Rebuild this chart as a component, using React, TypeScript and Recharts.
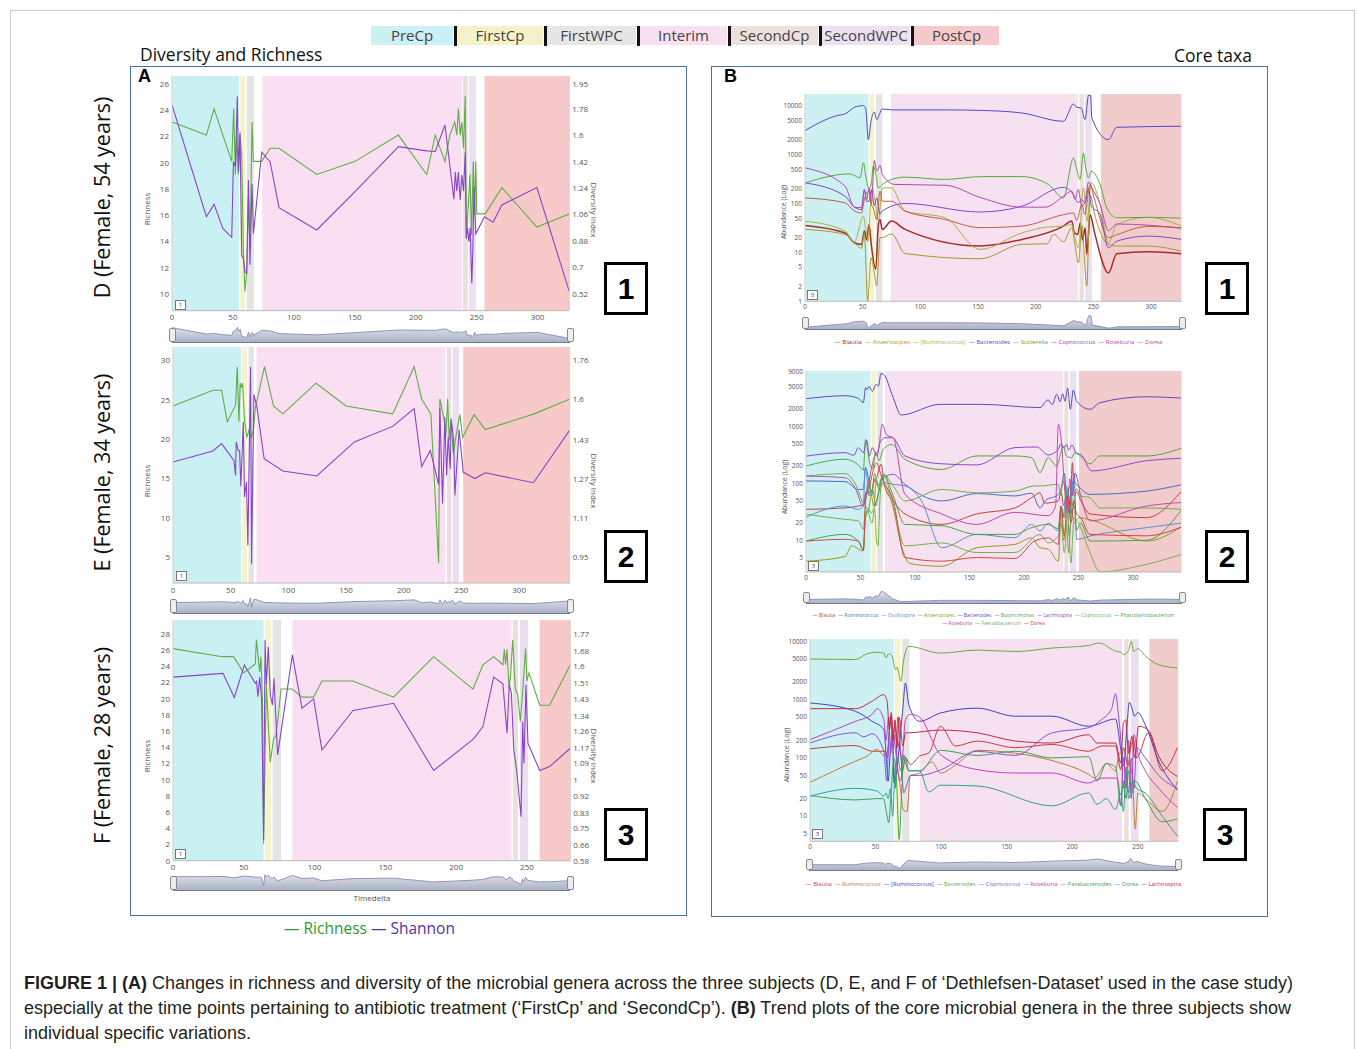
import React from 'react';
import { LineChart, Line, XAxis, YAxis, ReferenceArea, AreaChart, Area } from 'recharts';

type P = [number, number][];

// ---------- phases ----------
const PHASE_NAMES = ['PreCp', 'FirstCp', 'FirstWPC', 'Interim', 'SecondCp', 'SecondWPC', 'PostCp'];
const PHASE_LEGEND_COLORS = ['#cbf1f4', '#f4f2c9', '#e6e6e6', '#f9e0f1', '#ede1de', '#ece1f3', '#f6caca'];
const PHASE_COLORS_A = ['#c9f1f4', '#f5f3cb', '#e4e4e4', '#fadff2', '#eadfdc', '#ebdff2', '#f7c9c9'];
const PHASE_COLORS_B = ['#cdf0f3', '#f5f3cb', '#e4e4e4', '#f5e1f0', '#eadfdc', '#ebe0f2', '#f2cccc'];

const A1_PHASES: P = [[0, 55], [56, 60], [61.3, 67.3], [74.1, 237.8], [238.6, 242.7], [243.8, 249.3], [256.4, 326]];
const A2_PHASES: P = [[0, 59.1], [60, 64], [65.5, 70], [72.4, 236], [237.4, 241.1], [242.3, 248], [251.5, 344]];
const A3_PHASES: P = [[0, 64], [65.2, 69.2], [70.4, 76.3], [84.3, 239], [240, 243.6], [245, 250.7], [259, 281]];
const B1_PHASES: P = [[0, 55], [56, 60], [61.6, 67], [74.6, 236.4], [237.9, 241.6], [242.8, 248.6], [256.4, 327]];
const B2_PHASES: P = [[0, 59.3], [60.2, 64.2], [65.4, 70.3], [72.5, 236], [237, 240.7], [242.2, 247.7], [250.5, 345]];
const B3_PHASES: P = [[0, 63.9], [64.9, 69], [70.3, 75.8], [83.7, 238], [239.7, 243], [244.6, 250.6], [258.8, 281]];

// ---------- Panel A: richness / shannon ----------
const A1_RICHNESS: P = [[0, 23.1], [28.2, 22.1], [34.5, 24.1], [49, 20.1], [50.6, 24.1], [52, 19.1], [53.1, 22], [54.5, 19.1], [55.8, 22.1], [57.2, 20.6], [58.6, 13], [59.9, 10.2], [61.3, 11.7], [62.7, 17.3], [64, 13.5], [65.7, 23.1], [66.8, 20.1], [73.6, 20.1], [80.5, 21.1], [87.8, 21.1], [118.8, 19.1], [150.2, 20.1], [185.8, 22.1], [209, 19.1], [216, 22.1], [224, 20.1], [228, 22.1], [232, 23.1], [233.7, 22.1], [235, 24.1], [236.5, 22.1], [237.8, 23.1], [239.2, 21.1], [240.6, 25.1], [241.5, 14.2], [243, 16.5], [244.5, 19.1], [245.8, 14.5], [247.2, 20.1], [248.3, 16], [249.3, 20.1], [250.1, 16.1], [257, 16.1], [270.7, 18.1], [299.4, 15.1], [326, 16.1]];
const A1_SHANNON: P = [[0, 1.807], [28.2, 1.046], [34.5, 1.13], [41.7, 0.967], [49, 0.906], [50.4, 1.42], [52, 1.39], [53.6, 1.864], [54.5, 1.35], [55.8, 1.62], [57.2, 0.785], [58.6, 0.76], [59.9, 0.672], [61.3, 0.66], [62.7, 1.296], [64, 0.72], [65.7, 1.27], [66.8, 0.93], [73.6, 1.485], [80.5, 1.42], [87.8, 1.108], [118.8, 0.956], [150.2, 1.217], [185.8, 1.523], [209, 1.494], [216, 1.49], [224, 1.67], [231.3, 1.165], [232.5, 1.35], [233.7, 1.22], [235, 1.35], [236.5, 1.16], [237.8, 1.33], [239.2, 1.22], [240.6, 1.485], [241.5, 0.9], [242.5, 0.97], [243.6, 0.876], [244.7, 0.97], [246, 0.593], [246.8, 0.8], [247.8, 1.25], [249.3, 0.93], [256.4, 1.046], [263.5, 1.008], [270.7, 1.126], [299.4, 1.244], [326, 0.536]];

const A2_RICHNESS: P = [[0, 24.2], [34.6, 26.2], [42.1, 26.2], [47, 22.2], [54.2, 24.3], [55.7, 29.2], [57.1, 22.2], [58.3, 27.1], [59.4, 26.6], [60.3, 27.1], [62, 22.4], [64, 20.2], [65.8, 21.1], [67.8, 20.2], [69.8, 21.2], [71.5, 24.1], [79.3, 29.2], [87.1, 24.2], [95.2, 23.2], [124, 27.1], [150, 24.2], [190.4, 23.2], [209, 29.2], [215.5, 25.1], [223.5, 23.2], [230.2, 4.2], [231.3, 25.1], [235, 22.4], [236.5, 20.3], [238, 25.1], [239.4, 19.8], [241, 22.4], [242.9, 18.1], [245.2, 20.3], [248.6, 23.1], [251, 20.2], [261, 23.1], [270.6, 21.2], [313, 23.2], [344, 25.1]];
const A2_SHANNON: P = [[0, 1.341], [34.6, 1.387], [42.1, 1.417], [52.8, 1.348], [54.2, 1.286], [54.8, 1.424], [56.5, 1.389], [57.7, 1.389], [58.8, 1.241], [60.9, 1.506], [62, 1.197], [63.7, 1.259], [64.9, 0.998], [67.2, 1.733], [68.1, 0.922], [70.1, 1.62], [72.7, 1.568], [79, 1.355], [95.2, 1.304], [124.6, 1.284], [157.2, 1.424], [190.4, 1.488], [209, 1.561], [215.5, 1.323], [223, 1.389], [230.2, 1.249], [231.3, 1.565], [233.6, 1.17], [235.6, 1.527], [237.1, 1.286], [238.5, 1.444], [240.3, 1.314], [241.1, 1.52], [243.2, 1.43], [244.3, 1.204], [248, 1.474], [251.5, 1.3], [261.6, 1.273], [270.6, 1.297], [312.4, 1.256], [344, 1.474]];

const A3_RICHNESS: P = [[0, 26.2], [34.6, 25.2], [42.8, 25.2], [49.9, 23.2], [58.1, 24.3], [58.9, 27.3], [61.2, 23.3], [62.1, 25.2], [63.2, 19.5], [64, 2.1], [65.9, 21.7], [68.7, 12.2], [71.1, 15.1], [72.5, 15.3], [73.9, 17.2], [76.3, 21.2], [84.3, 21.2], [91.1, 20.2], [99.3, 20.2], [105.2, 22.2], [127.1, 22.2], [155.8, 20.2], [184.1, 25.2], [211.9, 21.2], [218.9, 24.2], [226.5, 25.2], [233, 24.2], [234, 26.1], [234.9, 24.2], [235.9, 26.1], [237.3, 21.3], [238.5, 23.1], [239.9, 27.3], [241.8, 21.2], [243.5, 20.5], [245.3, 17.2], [247, 21], [249, 26.2], [250, 22.2], [251.4, 23.2], [259, 19.2], [266, 19.2], [280.6, 24.2]];
const A3_SHANNON: P = [[0, 1.543], [35.3, 1.563], [43.3, 1.437], [50.4, 1.607], [58.1, 1.511], [59, 1.52], [60, 1.441], [61.2, 1.543], [62.6, 1.43], [64, 0.688], [65, 1.739], [65.9, 1.502], [67.3, 1.703], [68.7, 1.45], [70.2, 1.397], [71.3, 1.537], [73.9, 1.135], [84.3, 1.66], [91.1, 1.38], [99.3, 1.429], [105.2, 1.161], [127.1, 1.368], [155.8, 1.406], [184.1, 1.053], [212.3, 1.219], [218.9, 1.284], [226.5, 1.543], [233, 1.508], [235.9, 1.249], [237.5, 1.502], [239, 1.46], [240.6, 1.17], [242.9, 1.044], [245.8, 0.811], [247, 1.31], [247.9, 1.091], [249.3, 1.502], [250.7, 1.196], [259, 1.053], [266, 1.074], [280.6, 1.17]];

const A1_LEFT_TICKS = [10, 12, 14, 16, 18, 20, 22, 24, 26];
const A1_RIGHT_TICKS = [0.52, 0.7, 0.88, 1.06, 1.24, 1.42, 1.6, 1.78, 1.95];
const A2_LEFT_TICKS = [5, 10, 15, 20, 25, 30];
const A2_RIGHT_TICKS = [0.95, 1.11, 1.27, 1.43, 1.6, 1.76];
const A3_LEFT_TICKS = [0, 2, 4, 6, 8, 10, 12, 14, 16, 18, 20, 22, 24, 26, 28];
const A3_RIGHT_TICKS = [0.58, 0.66, 0.75, 0.83, 0.92, 1, 1.09, 1.17, 1.26, 1.34, 1.43, 1.51, 1.6, 1.68, 1.77];
const X_TICKS_300 = [0, 50, 100, 150, 200, 250, 300];
const X_TICKS_250 = [0, 50, 100, 150, 200, 250];

// ---------- Panel B: core taxa (subject D) ----------
const B1_BLAUTIA: P = [[0, 35.6], [34.7, 25], [42.8, 15.7], [49, 14.5], [51.4, 27.3], [53.5, 18], [55.5, 37], [57.5, 14], [61.3, 4.5], [63.6, 37], [65, 47], [67, 29.5], [75, 43.6], [86.7, 29.5], [151.7, 13.5], [188, 18.4], [224, 34.5], [231.2, 43.6], [233.5, 25], [236.4, 23.3], [238.5, 40], [240.5, 18], [242.8, 32], [244.2, 9.1], [247.1, 59], [251, 25], [263, 3.8], [270.2, 9.4], [297.7, 10.3], [326, 9.4]];
const B1_ANAEROSTIPES: P = [[0, 29.5], [34.7, 23.3], [42.8, 15.7], [49, 12.1], [51.4, 25], [54.3, 1], [57.2, 7.8], [60, 4], [62.1, 2.06], [65, 20], [67, 20], [75, 24], [86.7, 9.5], [151.7, 7.4], [188, 14.6], [210, 15], [215.5, 23.3], [224, 16.5], [231.2, 32], [234, 14], [237, 6.1], [240, 35], [244.2, 2.06], [247.1, 150], [251, 60], [263, 14.6], [270.2, 13.5], [297.7, 13.5], [326, 10.6]];
const B1_RUMINO_BR: P = [[0, 43.6], [34.7, 27.3], [42.8, 16.5], [50.6, 55], [52.6, 30], [54.9, 17], [56.5, 81], [58.4, 208], [60.5, 120], [63.6, 44], [67, 208], [75, 208], [86.7, 70], [121.4, 51], [151.7, 11.5], [188, 25], [210, 33], [224, 34.5], [231.2, 37], [234, 20], [237, 12.4], [241.3, 208], [244.5, 44], [248, 264], [255.8, 95], [263, 15.7], [270.2, 37], [297.7, 52], [326, 35]];
const B1_BACTEROIDES: P = [[0, 3090], [27.5, 6250], [35.3, 6870], [42.8, 9240], [50.6, 10000], [52.6, 8690], [54.9, 2020], [57.2, 4790], [60.1, 7430], [62.1, 5180], [67, 8550], [75.1, 8190], [121.4, 8190], [153.2, 7980], [187.9, 7080], [224, 4790], [232.7, 10800], [235.5, 9240], [239.3, 8960], [242.8, 5180], [245.7, 16200], [247.5, 16000], [248.6, 5600], [263, 2020], [270.2, 3610], [326, 3790]];
const B1_SUTTERELLA: P = [[0, 264], [39, 403], [47.7, 333], [50.6, 676], [52.9, 333], [55.5, 200], [57.5, 260], [59.2, 580], [61.5, 380], [63.6, 208], [67, 244], [75.1, 310], [86.7, 345], [121, 310], [153, 354], [188, 354], [211, 244], [224, 130], [232.7, 857], [235.5, 500], [238.4, 310], [241.3, 1075], [243.5, 500], [245.7, 333], [248, 456], [255.8, 244], [261.6, 81], [270.2, 51], [297.7, 52], [326, 50]];
const B1_COPROCOCCUS: P = [[0, 264], [34.7, 141], [42.8, 84], [49, 75], [51.4, 194], [53.5, 110], [55.5, 111], [57.5, 190], [60, 90], [62.1, 130], [65, 60], [67, 70], [86.7, 100], [151.7, 67], [188, 88], [224, 214], [232.7, 152], [236.9, 103], [239.5, 120], [242.8, 103], [245.7, 208], [248, 90], [255.8, 60], [263, 12.4], [270.2, 17], [297.7, 21.5], [326, 18.5]];
const B1_ROSEBURIA: P = [[0, 535], [34.7, 226], [42.8, 84], [49, 82], [51.4, 179], [53.5, 120], [55.5, 208], [57.5, 100], [60.1, 755], [62.1, 457], [65, 605], [67, 391], [78, 245], [121.4, 236], [153, 130], [188, 84], [208, 84], [224, 140], [231.2, 179], [234, 121], [236.9, 194], [239.9, 88], [242.8, 111], [245.7, 275], [248.6, 208], [255.8, 95], [263, 28], [270.2, 38], [297.7, 36], [326, 31]];
const B1_DOREA: P = [[0, 130], [34.7, 103], [42.8, 70], [49, 64], [51.4, 120], [55.5, 179], [57.2, 100], [59.2, 80], [62.1, 47], [65, 179], [67, 111], [75, 111], [86.7, 70], [121.4, 47], [151.7, 32], [188, 34.5], [224, 59], [232.7, 64], [235.5, 45], [239.9, 95], [242.5, 60], [247.1, 244], [251, 120], [263, 20], [270.2, 23], [297.7, 34], [326, 32]];

// ---------- Panel B: core taxa (subject E) ----------
const B2_BLAUTIA: P = [[0, 35], [35.8, 37], [48, 40], [52.6, 42], [55, 70], [57.8, 73], [60, 60], [62, 100], [64.8, 125], [68.8, 215], [72.5, 84], [80, 49], [90.8, 29], [124.5, 19], [156.6, 29], [191.7, 37], [207, 56], [214.7, 68], [219, 45], [231.5, 49], [234, 70], [236.5, 40], [239, 60], [242, 30], [244.5, 230], [246, 60], [248.3, 70], [252, 50], [260.6, 29], [312.5, 25], [344, 71]];
const B2_RUMINOCOCCUS: P = [[0, 110], [35.8, 107], [48, 78], [52.6, 78], [54.7, 188], [57.2, 125], [60, 70], [63, 120], [66, 90], [71, 125], [80, 144], [90.8, 96], [124.5, 49], [156.6, 66], [191.7, 60], [207, 67], [214.7, 37], [219.3, 49], [231.5, 64], [234, 80], [237, 150], [240, 30], [243, 70], [245.3, 110], [248.3, 96], [260.6, 64], [312.5, 73], [344, 94]];
const B2_OSCILLOSPIRA: P = [[0, 25.6], [35.8, 40], [48, 35], [52.6, 40], [54.3, 188], [56, 120], [58, 60], [61, 80], [64, 40], [67, 80], [71, 103], [80, 96], [90.8, 90], [106, 49], [124.5, 7.4], [156.6, 12.7], [191.7, 11.1], [207, 19], [214.7, 14.6], [222.3, 20], [231.5, 14.6], [234, 40], [236, 25], [239, 90], [241.5, 12], [244, 60], [246, 150], [248.3, 10.4], [260.6, 11.9], [312.5, 16.7], [344, 20]];
const B2_ANAEROSTIPES: P = [[0, 4.3], [35.8, 5.2], [42, 8], [52.6, 6.5], [54.7, 25], [57.5, 35], [60, 60], [62, 40], [64.8, 110], [67, 80], [71, 96], [80, 37], [87.2, 8.5], [95.4, 3.9], [124.5, 3.5], [156.6, 7.4], [191.7, 8.5], [207, 11], [214.7, 7.4], [222.3, 7], [231.5, 4.3], [234, 30], [236.5, 10], [239, 20], [241, 6], [243.5, 35], [246, 20], [250, 25], [260.6, 23], [312.5, 9.7], [344, 17]];
const B2_BACTEROIDES: P = [[0, 3050], [35.8, 3440], [48, 3100], [52.6, 2600], [54.7, 4760], [56, 4400], [57.8, 5000], [60.9, 4100], [64.2, 5460], [66.4, 5100], [68.8, 8400], [71, 8200], [80, 3180], [87.2, 1580], [123, 2430], [161, 2430], [214.7, 2130], [222, 2900], [226, 2400], [230, 3640], [233, 2700], [235.5, 3700], [237.6, 2760], [240.1, 4660], [242.5, 1990], [245.3, 4320], [248.3, 2760], [260.6, 1990], [269.7, 2600], [312.5, 3300], [344, 3130]];
const B2_BUTYRICIMONAS: P = [[0, 201], [35.8, 264], [48, 210], [52.6, 170], [54.7, 590], [56.5, 400], [58, 250], [61, 180], [64, 350], [67, 250], [71, 400], [78.6, 480], [90.8, 264], [124.5, 175], [156.6, 302], [191.7, 302], [207, 282], [214.7, 154], [222.3, 282], [230, 200], [233, 300], [236, 450], [239, 300], [243.7, 282], [247, 350], [252, 300], [260.6, 220], [269.7, 302], [312.5, 302], [344, 410]];
const B2_LACHNOSPIRA: P = [[0, 300], [35.8, 345], [44, 310], [48, 423], [52.6, 345], [55.7, 568], [58, 300], [61, 420], [65, 300], [68, 520], [72.5, 630], [79.2, 630], [90.8, 302], [123, 221], [156.6, 210], [191.7, 423], [211.6, 434], [222.3, 314], [231.5, 394], [234, 500], [236.5, 420], [239, 480], [241, 380], [244, 470], [248.3, 330], [252, 320], [262, 165], [313, 250], [344, 275]];
const B2_COPROCOCCUS: P = [[0, 134], [35.8, 148], [45, 100], [54, 43], [56, 90], [58, 120], [60, 60], [63, 150], [66, 90], [71, 144], [80, 90], [90.8, 49], [124.5, 78], [156.6, 68], [191.7, 73], [209.7, 90], [214.7, 90], [231.5, 96], [233.5, 60], [236, 110], [239, 50], [242, 90], [245, 40], [248, 80], [252, 60], [260.6, 56], [269.7, 37], [312.5, 37], [344, 35]];
const B2_PHASCOLARCTO: P = [[0, 9.7], [35.8, 12.7], [48, 9.7], [52.6, 7], [54.7, 28.6], [57.5, 35], [60, 30], [63, 40], [66, 60], [71, 144], [80, 60], [90.8, 19], [124.5, 18], [156.6, 12.7], [191.7, 12.7], [207, 16.7], [222.3, 19], [231.5, 16], [234, 40], [237, 25], [240, 80], [243, 30], [246, 40], [248.3, 15], [252, 20], [260.6, 9.7], [312.5, 10], [344, 33]];
const B2_ROSEBURIA: P = [[0, 134], [35.8, 125], [45, 84], [52.6, 40], [55, 60], [57.5, 100], [60.5, 200], [63, 300], [66.5, 400], [70, 1085], [74, 700], [80, 630], [90.8, 64], [124.5, 29], [156.6, 19], [191.7, 31], [222.3, 27], [229, 40], [231.5, 1085], [234.6, 480], [237, 100], [240, 37], [242, 120], [244, 60], [247, 150], [252, 60], [260.6, 22], [312.5, 40], [344, 46]];
const B2_FAECALI: P = [[0, 28.6], [35.8, 23.3], [48, 22], [52.6, 15.7], [54.7, 40], [57.5, 30], [60.5, 20], [63, 35], [64.8, 9.7], [66, 8], [68, 60], [71, 144], [78, 60], [90.8, 8], [124.5, 9], [156.6, 6.1], [191.7, 6.1], [214.7, 12.7], [222.3, 9], [231.5, 12], [234, 20], [237, 6], [240, 30], [243, 4], [246, 25], [250, 20], [260.6, 6.1], [269.7, 2.8], [312.5, 3.8], [344, 5.6]];
const B2_DOREA: P = [[0, 9.7], [35.8, 10.4], [48, 9.7], [52.6, 6.7], [54.7, 52], [57.8, 80], [61, 150], [64.8, 230], [67, 180], [70, 120], [80, 50], [90.8, 5], [124.5, 4.3], [156.6, 5], [191.7, 4.8], [209.7, 9.7], [222.3, 11], [231.5, 8.5], [234, 40], [237, 12], [240, 60], [243, 20], [246, 50], [248, 30], [252, 25], [260.6, 12.7], [312.5, 12], [344, 17]];

// ---------- Panel B: core taxa (subject F) ----------
const B3_BLAUTIA: P = [[0, 143], [34.7, 163], [47.4, 130], [57.5, 130], [59, 100], [61.4, 520], [63, 200], [64.5, 350], [66.4, 210], [69, 122], [70.5, 60], [72.8, 100], [76.5, 77], [83.5, 107], [90.6, 122], [99.5, 350], [110.9, 160], [127.4, 194], [156.6, 150], [184.6, 170], [212.5, 130], [222.7, 160], [233, 160], [237, 63], [239, 150], [242.6, 72], [244.5, 150], [246.8, 200], [249, 100], [258, 270], [268.6, 60], [280.2, 150]];
const B3_RUMINOCOCCUS: P = [[0, 38], [34.7, 88], [43.6, 107], [51.2, 140], [56.3, 110], [58.8, 122], [60.5, 300], [62, 500], [63.5, 150], [65, 250], [67, 60], [69, 30], [70.8, 13], [74, 12], [76.5, 50], [83.5, 55], [93, 85], [99.5, 55], [110.9, 75], [127.4, 135], [156.6, 120], [184.6, 90], [212.5, 52], [217, 45], [226, 80], [233, 60], [236, 120], [239, 100], [241.5, 40], [243, 90], [246, 40], [248, 6], [250, 25], [255.7, 20], [268.6, 12], [280.2, 40]];
const B3_RUMINO_BR: P = [[0, 877], [34.7, 630], [47.4, 425], [56.3, 307], [58.8, 63], [59.6, 40], [61.4, 150], [62.8, 250], [64, 37], [66.4, 67], [68.5, 200], [70.8, 710], [72.8, 1930], [75.3, 820], [83.5, 425], [99.5, 590], [127.4, 715], [156.6, 520], [184.6, 520], [212.5, 350], [233, 465], [237, 140], [239.2, 72], [241.5, 300], [243.5, 900], [245.5, 715], [247.5, 520], [250, 600], [255.7, 370], [265.9, 88], [280.2, 28]];
const B3_BACTEROIDES: P = [[0, 4980], [34.7, 4900], [43.6, 6150], [51.2, 6520], [56.3, 6300], [58, 5200], [60, 6150], [62.6, 5600], [65.2, 3270], [66.5, 3600], [67.7, 2870], [69.2, 2060], [71.5, 4880], [75.3, 8210], [99.5, 6300], [127.4, 7100], [156.6, 6700], [184.6, 7700], [212.5, 8500], [220.2, 9360], [234, 6700], [237, 6500], [239.2, 5900], [243, 7000], [245, 10100], [246.8, 6700], [250, 7500], [255.7, 5600], [265.9, 3980], [280.2, 3500]];
const B3_COPROCOCCUS: P = [[0, 180], [34.7, 270], [41, 230], [47.4, 260], [56.3, 130], [58.5, 40], [60, 200], [62, 500], [63.5, 120], [65, 30], [67, 500], [69, 150], [71.5, 25], [73, 30], [76.5, 50], [83.5, 50], [99.5, 62], [127.4, 130], [156.6, 110], [184.6, 270], [212.5, 330], [222, 450], [230, 700], [233, 1270], [235, 600], [237, 200], [239, 30], [241, 60], [243, 25], [245, 100], [247, 30], [249, 150], [255.7, 100], [265.9, 50], [280.2, 30]];
const B3_ROSEBURIA: P = [[0, 206], [34.7, 425], [47.4, 560], [51.2, 700], [56.3, 450], [58, 200], [60, 500], [61.5, 120], [63, 300], [65, 150], [67, 60], [69, 40], [72.8, 450], [76.5, 560], [83.5, 500], [99.5, 114], [127.4, 63], [156.6, 55], [184.6, 55], [212.5, 37], [222, 45], [233, 45], [235, 40], [237, 15], [239, 100], [241, 30], [243, 200], [245, 20], [247, 250], [250, 120], [255.7, 60], [265.9, 30], [280.2, 14]];
const B3_PARABACTEROIDES: P = [[0, 22.6], [34.7, 19], [51.2, 20], [56, 20], [58.8, 10], [60, 7.7], [62, 30], [64, 100], [66, 40], [68, 4], [70, 30], [71.5, 110], [73, 100], [75.3, 60], [83.5, 60], [99.5, 135], [127.4, 110], [156.6, 130], [184.6, 100], [212.5, 105], [219, 40], [226, 80], [233, 70], [237, 15], [239, 40], [241, 20], [243, 60], [246, 25], [248, 40], [255.7, 20], [268.6, 8], [280.2, 9]];
const B3_DOREA: P = [[0, 22], [34.7, 30], [51.2, 27], [56.3, 22], [58, 25], [59.6, 20], [61.4, 30], [63, 10], [65, 70], [67, 100], [69, 60], [71.5, 110], [73, 80], [75.3, 60], [83.5, 60], [90.6, 26], [99.5, 34], [127.4, 33], [184.6, 15], [212.5, 25], [218.9, 16], [226, 20], [233, 13], [237, 25], [239, 12], [241, 70], [243, 20], [246, 40], [249, 30], [255.7, 25], [268.6, 10], [280.2, 4.5]];
const B3_LACHNOSPIRA: P = [[0, 700], [34.7, 700], [47.4, 940], [56.3, 1220], [58.8, 940], [60.5, 300], [62, 600], [63.5, 200], [64.8, 450], [66.5, 150], [68, 500], [70.8, 160], [72.8, 270], [75.3, 270], [99.5, 300], [127.4, 270], [156.6, 195], [184.6, 180], [212.5, 250], [218.9, 180], [233, 180], [237, 82], [239, 400], [240.8, 450], [243, 120], [245.5, 235], [247.5, 100], [250.6, 350], [258, 300], [265.9, 107], [280.2, 48]];

const B1_Y_TICKS = [1, 2, 5, 10, 20, 50, 100, 200, 500, 1000, 2000, 5000, 10000];
const B2_Y_TICKS = [5, 10, 20, 50, 100, 200, 500, 1000, 2000, 5000, 9000];
const B3_Y_TICKS = [5, 10, 20, 50, 100, 200, 500, 1000, 2000, 5000, 10000];

type S = { name: string; color: string; pts: P; w?: number };
const B1_SERIES: S[] = [
  { name: 'Blautia', color: '#a82a2a', pts: B1_BLAUTIA, w: 1.5 },
  { name: 'Anaerostipes', color: '#a8982c', pts: B1_ANAEROSTIPES },
  { name: '[Ruminococcus]', color: '#a9b240', pts: B1_RUMINO_BR },
  { name: 'Bacteroides', color: '#5448c0', pts: B1_BACTEROIDES },
  { name: 'Sutterella', color: '#5aa83a', pts: B1_SUTTERELLA },
  { name: 'Coprococcus', color: '#7e48c8', pts: B1_COPROCOCCUS },
  { name: 'Roseburia', color: '#b448b8', pts: B1_ROSEBURIA },
  { name: 'Dorea', color: '#c05a4a', pts: B1_DOREA },
];
const B2_SERIES: S[] = [
  { name: 'Blautia', color: '#c0403a', pts: B2_BLAUTIA },
  { name: 'Ruminococcus', color: '#4a6cc0', pts: B2_RUMINOCOCCUS },
  { name: 'Oscillospira', color: '#5a90d0', pts: B2_OSCILLOSPIRA },
  { name: 'Anaerostipes', color: '#9a9a18', pts: B2_ANAEROSTIPES },
  { name: 'Bacteroides', color: '#5a48c0', pts: B2_BACTEROIDES },
  { name: 'Butyricimonas', color: '#5aa040', pts: B2_BUTYRICIMONAS },
  { name: 'Lachnospira', color: '#9048c8', pts: B2_LACHNOSPIRA },
  { name: 'Coprococcus', color: '#6ab04a', pts: B2_COPROCOCCUS },
  { name: 'Phascolarctobacterium', color: '#48a048', pts: B2_PHASCOLARCTO },
  { name: 'Roseburia', color: '#c048b0', pts: B2_ROSEBURIA },
  { name: 'Faecalibacterium', color: '#78b050', pts: B2_FAECALI },
  { name: 'Dorea', color: '#d04848', pts: B2_DOREA },
];
const B3_SERIES: S[] = [
  { name: 'Blautia', color: '#c83a3a', pts: B3_BLAUTIA },
  { name: 'Ruminococcus', color: '#c07a3a', pts: B3_RUMINOCOCCUS },
  { name: '[Ruminococcus]', color: '#4040c8', pts: B3_RUMINO_BR },
  { name: 'Bacteroides', color: '#6aaa3a', pts: B3_BACTEROIDES },
  { name: 'Coprococcus', color: '#8a50d8', pts: B3_COPROCOCCUS },
  { name: 'Roseburia', color: '#c040c0', pts: B3_ROSEBURIA },
  { name: 'Parabacteroides', color: '#40a050', pts: B3_PARABACTEROIDES },
  { name: 'Dorea', color: '#30a090', pts: B3_DOREA },
  { name: 'Lachnospira', color: '#c02848', pts: B3_LACHNOSPIRA },
];

const RICH_COLOR = '#5fae45';
const SHAN_COLOR = '#8a44c8';
const TICK_FONT = '"Open Sans", sans-serif';

const rows = (p: P) => p.map(([t, v]) => ({ t, v }));

type Box = { x: number; y: number; w: number; h: number };

function PanelAChart(props: {
  box: Box; xMax: number; xTicks: number[]; lDom: [number, number]; lTicks: number[];
  rDom: [number, number]; rTicks: number[]; phases: P; rich: P; shan: P;
}) {
  const { box, xMax, xTicks, lDom, lTicks, rDom, rTicks, phases, rich, shan } = props;
  const ML = 42, MR = 42, MT = 8, XH = 20;
  const tick = { fontSize: 8, fill: '#555', fontFamily: TICK_FONT };
  return (
    <div style={{ position: 'absolute', left: box.x - ML, top: box.y - MT }}>
      <LineChart width={box.w + ML + MR} height={box.h + MT + XH} margin={{ top: MT, right: 0, bottom: 0, left: 0 }}>
        <XAxis type="number" dataKey="t" domain={[0, xMax]} ticks={xTicks} allowDataOverflow height={XH}
          tick={tick} tickLine={false} tickSize={2} tickMargin={2} axisLine={{ stroke: '#b8b8b8' }} />
        <YAxis yAxisId="l" orientation="left" type="number" width={ML} domain={lDom} ticks={lTicks} allowDataOverflow
          tick={tick} tickLine={false} tickSize={2} tickMargin={1} axisLine={{ stroke: '#d0d0d0' }} />
        <YAxis yAxisId="r" orientation="right" type="number" width={MR} domain={rDom} ticks={rTicks} allowDataOverflow
          tick={tick} tickLine={false} tickSize={2} tickMargin={1} axisLine={{ stroke: '#d0d0d0' }} />
        {phases.map(([a, b], i) => (
          <ReferenceArea key={i} yAxisId="l" x1={a} x2={b} fill={PHASE_COLORS_A[i]} fillOpacity={1} stroke="none" ifOverflow="hidden" />
        ))}
        <Line yAxisId="l" data={rows(rich)} dataKey="v" name="Richness" type="linear" stroke={RICH_COLOR} strokeWidth={1.1} dot={false} isAnimationActive={false} />
        <Line yAxisId="r" data={rows(shan)} dataKey="v" name="Shannon" type="linear" stroke={SHAN_COLOR} strokeWidth={1.1} dot={false} isAnimationActive={false} />
      </LineChart>
    </div>
  );
}

function PanelBChart(props: { box: Box; xMax: number; xTicks: number[]; yDom: [number, number]; yTicks: number[]; phases: P; series: S[] }) {
  const { box, xMax, xTicks, yDom, yTicks, phases, series } = props;
  const ML = 40, MR = 4, MT = 6, XH = 14;
  const tick = { fontSize: 6.5, fill: '#555', fontFamily: TICK_FONT };
  return (
    <div style={{ position: 'absolute', left: box.x - ML, top: box.y - MT }}>
      <LineChart width={box.w + ML + MR} height={box.h + MT + XH} margin={{ top: MT, right: MR, bottom: 0, left: 0 }}>
        <XAxis type="number" dataKey="t" domain={[0, xMax]} ticks={xTicks} allowDataOverflow height={XH}
          tick={tick} tickLine={false} tickSize={2} tickMargin={1} axisLine={{ stroke: '#b8b8b8' }} />
        <YAxis type="number" scale="log" domain={yDom} ticks={yTicks} allowDataOverflow width={ML}
          tick={tick} tickLine={false} tickSize={2} tickMargin={1} axisLine={{ stroke: '#d0d0d0' }} />
        {phases.map(([a, b], i) => (
          <ReferenceArea key={i} x1={a} x2={b} fill={PHASE_COLORS_B[i]} fillOpacity={1} stroke="none" ifOverflow="hidden" />
        ))}
        {series.map((s) => (
          <Line key={s.name} data={rows(s.pts)} dataKey="v" name={s.name} type="monotone" stroke={s.color}
            strokeWidth={s.w ?? 1} dot={false} isAnimationActive={false} />
        ))}
      </LineChart>
    </div>
  );
}

function Nav(props: { id: string; x: number; y: number; w: number; h: number; xMax: number; data: P; dom: [number, number] }) {
  const { id, x, y, w, h, xMax, data, dom } = props;
  const handle = (left: number) => (
    <div style={{ position: 'absolute', left: left - 3, top: 2, width: 5, height: h - 5, border: '1px solid #8a8a8a', borderRadius: 2, background: '#eeeeee' }} />
  );
  return (
    <div style={{ position: 'absolute', left: x, top: y, width: w, height: h }}>
      <AreaChart width={w} height={h} margin={{ top: 0, right: 0, bottom: 0, left: 0 }}>
        <defs>
          <linearGradient id={id} x1="0" y1="0" x2="0" y2="1">
            <stop offset="0%" stopColor="#dfe2ea" />
            <stop offset="100%" stopColor="#a7aec4" />
          </linearGradient>
        </defs>
        <XAxis type="number" dataKey="t" domain={[0, xMax]} hide allowDataOverflow />
        <YAxis type="number" domain={dom} hide allowDataOverflow />
        <Area data={rows(data)} dataKey="v" type="linear" stroke="#8e97b6" strokeWidth={1} fill={`url(#${id})`} fillOpacity={1} isAnimationActive={false} />
      </AreaChart>
      <div style={{ position: 'absolute', left: 0, right: 0, bottom: 0, height: 1.5, background: '#6f7896' }} />
      {handle(0)}
      {handle(w)}
    </div>
  );
}

const abs = (x: number, y: number, extra: React.CSSProperties = {}): React.CSSProperties => ({ position: 'absolute', left: x, top: y, ...extra });

function VText(props: { cx: number; cy: number; text: string; size: number; rot: number; color?: string; weight?: number }) {
  const { cx, cy, text, size, rot, color, weight } = props;
  return (
    <div style={{ position: 'absolute', left: cx - 200, top: cy - size, width: 400, height: size * 2, lineHeight: `${size * 2}px`, textAlign: 'center', fontSize: size, color: color ?? '#222', fontWeight: weight ?? 400, transform: `rotate(${rot}deg)`, whiteSpace: 'nowrap' }}>
      {text}
    </div>
  );
}

function SmallBox(props: { x: number; y: number; label: string }) {
  return (
    <div style={{ position: 'absolute', left: props.x, top: props.y, width: 9, height: 8, border: '1px solid #777', background: '#fff', fontSize: 6, lineHeight: '8px', textAlign: 'center', color: '#444', fontFamily: TICK_FONT }}>{props.label}</div>
  );
}

function NumBox(props: { x: number; y: number; label: string }) {
  return (
    <div style={{ position: 'absolute', left: props.x, top: props.y, width: 38, height: 47, border: '3px solid #000', background: '#fff', fontSize: 30, fontWeight: 700, lineHeight: '47px', textAlign: 'center', color: '#000', fontFamily: '"Liberation Sans", Arial, sans-serif' }}>{props.label}</div>
  );
}

function BLegend(props: { x: number; y: number; w: number; size: number; lines: S[][] }) {
  return (
    <div style={{ position: 'absolute', left: props.x, top: props.y, width: props.w, textAlign: 'center', fontSize: props.size, lineHeight: '8px', fontFamily: TICK_FONT }}>
      {props.lines.map((ln, i) => (
        <div key={i} style={{ whiteSpace: 'nowrap' }}>
          {ln.map((s) => (
            <span key={s.name} style={{ color: s.color, marginRight: 3 }}>— {s.name}</span>
          ))}
        </div>
      ))}
    </div>
  );
}

export default function App() {
  const legendStarts = [371, 457, 547, 640, 731, 822, 914];
  const legendEnds = [453, 543, 636, 727, 818, 910, 999];
  const seps = [454, 544, 637, 728, 819, 911];
  return (
    <div style={{ position: 'absolute', left: 0, top: 0, width: 1357, height: 1049, background: '#fff', fontFamily: '"Open Sans", sans-serif', overflow: 'hidden' }}>
      {/* outer figure frame */}
      <div style={abs(10, 10, { width: 1345, height: 1045, border: '1px solid #c9c9c9', boxSizing: 'border-box' })} />

      {/* phase legend */}
      {PHASE_NAMES.map((n, i) => (
        <div key={n} style={abs(legendStarts[i], 26, { width: legendEnds[i] - legendStarts[i], height: 19, background: PHASE_LEGEND_COLORS[i], fontSize: 15, lineHeight: '19px', textAlign: 'center', color: '#444' })}>{n}</div>
      ))}
      {seps.map((s) => (
        <div key={s} style={abs(s, 26, { width: 2.5, height: 20, background: '#111' })} />
      ))}

      <div style={abs(140, 42, { fontSize: 17.5, color: '#111', whiteSpace: 'nowrap' })}>Diversity and Richness</div>
      <div style={abs(1174, 43, { fontSize: 17.5, color: '#111', whiteSpace: 'nowrap' })}>Core taxa</div>

      {/* panel frames */}
      <div style={abs(130, 66, { width: 557, height: 850, border: '1.5px solid #4a70a8', boxSizing: 'border-box' })} />
      <div style={abs(711, 66, { width: 557, height: 851, border: '1.5px solid #4a70a8', boxSizing: 'border-box' })} />
      <div style={abs(138, 66, { fontSize: 18, fontWeight: 700, color: '#000', fontFamily: '"Liberation Sans", Arial, sans-serif' })}>A</div>
      <div style={abs(724, 66, { fontSize: 18, fontWeight: 700, color: '#000', fontFamily: '"Liberation Sans", Arial, sans-serif' })}>B</div>

      {/* subject labels */}
      <VText cx={101} cy={197} text="D (Female, 54 years)" size={21.5} rot={-90} color="#111" />
      <VText cx={101} cy={472} text="E (Female, 34 years)" size={21.5} rot={-90} color="#111" />
      <VText cx={101} cy={745} text="F (Female, 28 years)" size={21.5} rot={-90} color="#111" />

      {/* Panel A charts */}
      <PanelAChart box={{ x: 172, y: 76, w: 397.3, h: 234.7 }} xMax={326} xTicks={X_TICKS_300} lDom={[8.73, 26.6]} lTicks={A1_LEFT_TICKS}
        rDom={[0.4065, 2.0036]} rTicks={A1_RIGHT_TICKS} phases={A1_PHASES} rich={A1_RICHNESS} shan={A1_SHANNON} />
      <PanelAChart box={{ x: 173.3, y: 346.7, w: 396.7, h: 236 }} xMax={343.8} xTicks={X_TICKS_300} lDom={[1.7, 31.7]} lTicks={A2_LEFT_TICKS}
        rDom={[0.843, 1.815]} rTicks={A2_RIGHT_TICKS} phases={A2_PHASES} rich={A2_RICHNESS} shan={A2_SHANNON} />
      <PanelAChart box={{ x: 172.7, y: 620, w: 397.3, h: 240.7 }} xMax={280.6} xTicks={X_TICKS_250} lDom={[0, 29.73]} lTicks={A3_LEFT_TICKS}
        rDom={[0.58, 1.843]} rTicks={A3_RIGHT_TICKS} phases={A3_PHASES} rich={A3_RICHNESS} shan={A3_SHANNON} />

      <SmallBox x={175} y={300} label="1" />
      <SmallBox x={176} y={571} label="1" />
      <SmallBox x={175} y={849} label="1" />

      <VText cx={147} cy={209} text="Richness" size={8} rot={-90} color="#555" />
      <VText cx={147} cy={481} text="Richness" size={8} rot={-90} color="#555" />
      <VText cx={147} cy={756} text="Richness" size={8} rot={-90} color="#555" />
      <VText cx={594} cy={210} text="Diversity Index" size={8} rot={90} color="#555" />
      <VText cx={594} cy={481} text="Diversity Index" size={8} rot={90} color="#555" />
      <VText cx={594} cy={756} text="Diversity Index" size={8} rot={90} color="#555" />

      <Nav id="na1" x={172} y={326} w={398} h={17} xMax={326} data={A1_SHANNON} dom={[0, 2.0]} />
      <Nav id="na2" x={173} y={597} w={397} h={17} xMax={343.8} data={A2_SHANNON} dom={[0.4, 1.8]} />
      <Nav id="na3" x={173} y={874} w={397} h={17} xMax={280.6} data={A3_SHANNON} dom={[0.2, 1.8]} />
      <div style={abs(322, 892, { width: 100, textAlign: 'center', fontSize: 8, color: '#555' })}>Timedelta</div>

      <NumBox x={604} y={262} label="1" />
      <NumBox x={604} y={530} label="2" />
      <NumBox x={604} y={808} label="3" />

      {/* A legend */}
      <div style={abs(284, 917, { fontSize: 15.5, whiteSpace: 'nowrap' })}>
        <span style={{ color: '#2f9a2f' }}>— Richness</span>{' '}
        <span style={{ color: '#5a2fa0' }}>— Shannon</span>
      </div>

      {/* Panel B charts */}
      <PanelBChart box={{ x: 805, y: 94, w: 376.5, h: 207.3 }} xMax={326.3} xTicks={X_TICKS_300} yDom={[1, 17300]} yTicks={B1_Y_TICKS} phases={B1_PHASES} series={B1_SERIES} />
      <PanelBChart box={{ x: 806, y: 371.3, w: 375.6, h: 201 }} xMax={344.6} xTicks={X_TICKS_300} yDom={[2.78, 9340]} yTicks={B2_Y_TICKS} phases={B2_PHASES} series={B2_SERIES} />
      <PanelBChart box={{ x: 809.5, y: 638.7, w: 368.5, h: 202.3 }} xMax={281} xTicks={X_TICKS_250} yDom={[3.7, 11000]} yTicks={B3_Y_TICKS} phases={B3_PHASES} series={B3_SERIES} />

      <SmallBox x={807} y={290} label="3" />
      <SmallBox x={808} y={561} label="3" />
      <SmallBox x={812} y={829} label="3" />

      <VText cx={784} cy={212} text="Abundance (Log)" size={7} rot={-90} color="#555" />
      <VText cx={785} cy={487} text="Abundance (Log)" size={7} rot={-90} color="#555" />
      <VText cx={787} cy={755} text="Abundance (Log)" size={7} rot={-90} color="#555" />

      <Nav id="nb1" x={805} y={315} w={377} h={15} xMax={326.3} data={B1_BACTEROIDES} dom={[0, 17000]} />
      <Nav id="nb2" x={806} y={590} w={376} h={14} xMax={344.6} data={B2_BACTEROIDES} dom={[0, 9400]} />
      <Nav id="nb3" x={809} y={857} w={369} h={14} xMax={281} data={B3_BACTEROIDES} dom={[0, 11000]} />

      <BLegend x={780} y={338} w={440} size={6.1} lines={[B1_SERIES]} />
      <BLegend x={770} y={611} w={450} size={5.0} lines={[B2_SERIES.slice(0, 9), B2_SERIES.slice(9)]} />
      <BLegend x={770} y={880} w={450} size={5.75} lines={[B3_SERIES]} />

      <NumBox x={1205} y={262} label="1" />
      <NumBox x={1205} y={530} label="2" />
      <NumBox x={1203} y={808} label="3" />

      {/* caption */}
      <div style={abs(24, 971, { width: 1320, fontSize: 18, lineHeight: '25px', color: '#231f20', fontFamily: '"Liberation Sans", Arial, sans-serif' })}>
        <div style={{ whiteSpace: 'nowrap' }}><b>FIGURE 1 | (A)</b> Changes in richness and diversity of the microbial genera across the three subjects (D, E, and F of ‘Dethlefsen-Dataset’ used in the case study)</div>
        <div style={{ whiteSpace: 'nowrap' }}>especially at the time points pertaining to antibiotic treatment (‘FirstCp’ and ‘SecondCp’). <b>(B)</b> Trend plots of the core microbial genera in the three subjects show</div>
        <div style={{ whiteSpace: 'nowrap' }}>individual specific variations.</div>
      </div>
    </div>
  );
}
